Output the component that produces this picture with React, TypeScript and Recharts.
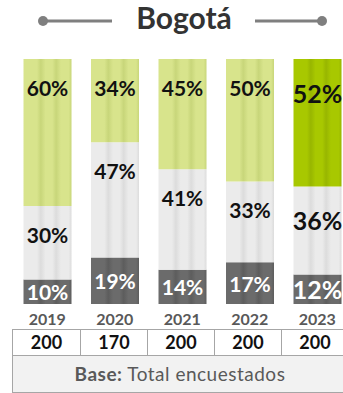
import React from 'react';
import { BarChart, Bar, XAxis, YAxis, LabelList, Cell } from 'recharts';

const years = ['2019', '2020', '2021', '2022', '2023'];
const bottomShare = [10, 19, 14, 17, 12];
const middleShare = [30, 47, 41, 33, 36];
const topShare = [60, 34, 45, 50, 52];
const sampleSizes = [200, 170, 200, 200, 200];

const data = years.map((year, i) => ({
  year,
  low: bottomShare[i],
  mid: middleShare[i],
  high: topShare[i],
}));

const FONT = 'Lato, "DejaVu Sans", sans-serif';

// stripes like the cylinder shading in the original
const Stripes = ({ id, base, dark }: { id: string; base: string; dark: string }) => (
  <linearGradient id={id} x1="0" y1="0" x2="1" y2="0">
    <stop offset="0" stopColor={base} />
    <stop offset="0.28" stopColor={base} />
    <stop offset="0.36" stopColor={dark} />
    <stop offset="0.46" stopColor={base} />
    <stop offset="0.6" stopColor={base} />
    <stop offset="0.68" stopColor={dark} />
    <stop offset="0.78" stopColor={base} />
    <stop offset="0.94" stopColor={base} />
    <stop offset="1" stopColor={dark} />
  </linearGradient>
);

const makeLabel = (kind: 'low' | 'mid' | 'high') => (props: any) => {
  const { x, y, width, height, value, index } = props;
  const last = index === years.length - 1;
  const size = last ? 25 : 21;
  const cx = Number(x) + Number(width) / 2;
  const cy = kind === 'low' ? Number(y) + Number(height) / 2 : Number(y) + (last ? 34 : 28);
  return (
    <text
      x={cx}
      y={cy}
      textAnchor="middle"
      dominantBaseline="central"
      fontSize={size}
      fontWeight={700}
      fontFamily={FONT}
      fill={kind === 'low' ? '#ffffff' : '#111111'}
    >
      {value}%
    </text>
  );
};

export default function App() {
  return (
    <div
      style={{
        position: 'absolute',
        left: 0,
        top: 0,
        width: 343,
        height: 393,
        overflow: 'hidden',
        background: '#fff',
        fontFamily: FONT,
      }}
    >
      {/* title */}
      <svg width={343} height={45} style={{ position: 'absolute', left: 0, top: 0 }}>
        <line x1={43} y1={21} x2={112} y2={21} stroke="#7f7f7f" strokeWidth={3} />
        <circle cx={43} cy={21} r={5} fill="#7f7f7f" />
        <line x1={255} y1={21} x2={322} y2={21} stroke="#7f7f7f" strokeWidth={3} />
        <circle cx={322} cy={21} r={5} fill="#7f7f7f" />
        <text
          x={184}
          y={29}
          textAnchor="middle"
          fontSize={30}
          fontWeight={700}
          fontFamily={FONT}
          fill="#333333"
        >
          Bogotá
        </text>
      </svg>

      <div style={{ position: 'absolute', left: 0, top: 0 }}>
        <BarChart
          width={360}
          height={393}
          data={data}
          margin={{ top: 59, right: 9, left: 13.5, bottom: 59 }}
          barSize={48}
        >
          <defs>
            <Stripes id="gLow" base="#6b6b6b" dark="#5d5d5d" />
            <Stripes id="gMid" base="#ebebeb" dark="#dcdcdc" />
            <Stripes id="gHigh" base="#d8e48c" dark="#c8d67a" />
            <Stripes id="gHighNow" base="#a8c800" dark="#98b600" />
          </defs>
          <XAxis
            dataKey="year"
            axisLine={false}
            tickLine={false}
            interval={0}
            tickMargin={4}
            tick={{ fontSize: 16, fontWeight: 700, fill: '#595959', fontFamily: FONT }}
          />
          <YAxis hide domain={[0, 100]} />
          <Bar dataKey="low" stackId="s" fill="url(#gLow)" isAnimationActive={false}>
            <LabelList dataKey="low" content={makeLabel('low')} />
          </Bar>
          <Bar dataKey="mid" stackId="s" fill="url(#gMid)" isAnimationActive={false}>
            <LabelList dataKey="mid" content={makeLabel('mid')} />
          </Bar>
          <Bar dataKey="high" stackId="s" fill="url(#gHigh)" isAnimationActive={false}>
            {data.map((d, i) => (
              <Cell key={d.year} fill={i === years.length - 1 ? 'url(#gHighNow)' : 'url(#gHigh)'} />
            ))}
            <LabelList dataKey="high" content={makeLabel('high')} />
          </Bar>
        </BarChart>
      </div>

      {/* base table */}
      <div
        style={{
          position: 'absolute',
          left: 12,
          top: 329,
          width: 340,
          border: '1px solid #a6a6a6',
          boxSizing: 'border-box',
        }}
      >
        <div style={{ display: 'flex', height: 25, borderBottom: '1px solid #a6a6a6' }}>
          {sampleSizes.map((n, i) => (
            <div
              key={years[i]}
              style={{
                width: 67,
                boxSizing: 'border-box',
                borderLeft: i === 0 ? 'none' : '1px solid #a6a6a6',
                textAlign: 'center',
                lineHeight: '25px',
                fontSize: 18,
                fontWeight: 700,
                color: '#111',
              }}
            >
              {n}
            </div>
          ))}
        </div>
        <div
          style={{
            height: 36,
            background: '#f2f2f2',
            textAlign: 'center',
            lineHeight: '36px',
            fontSize: 19,
            letterSpacing: 0.5,
            color: '#595959',
            paddingRight: 4,
          }}
        >
          <b>Base:</b> Total encuestados
        </div>
      </div>
    </div>
  );
}
